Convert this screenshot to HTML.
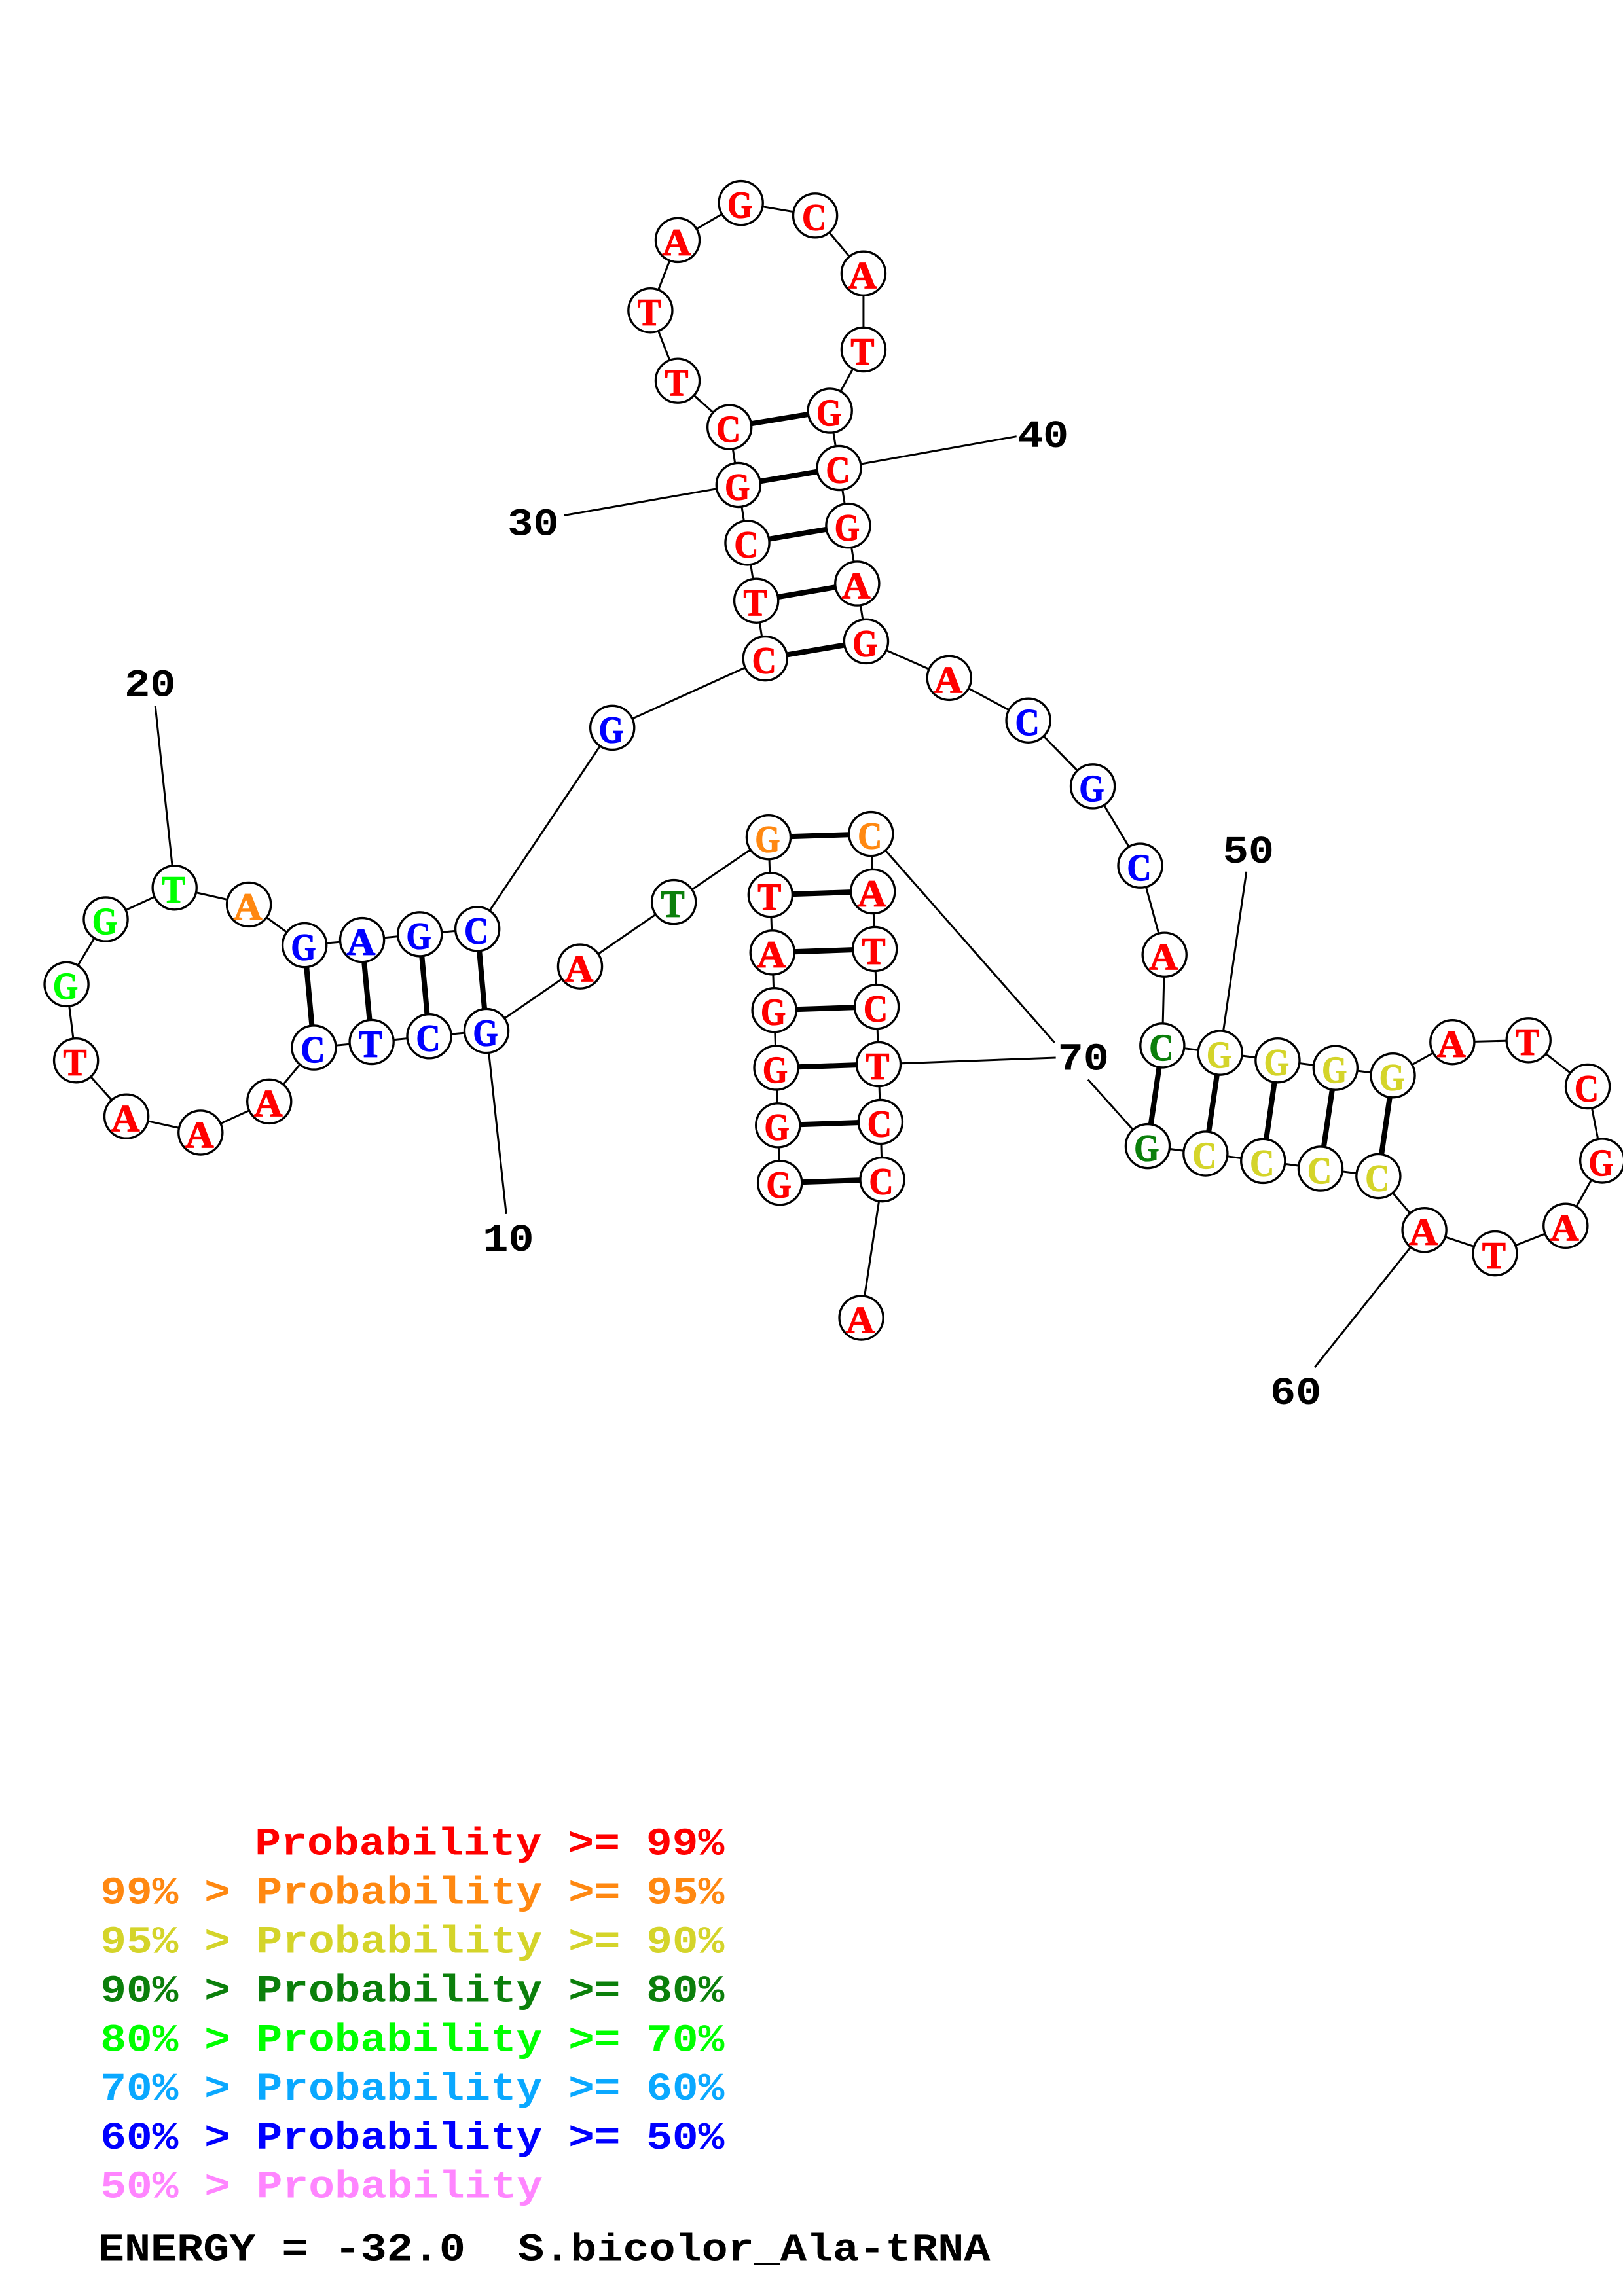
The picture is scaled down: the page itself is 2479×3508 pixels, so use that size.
<!DOCTYPE html>
<html><head><meta charset="utf-8"><style>
html,body{margin:0;padding:0;background:#fff}
svg{display:block}
.b{fill:none;stroke:#000;stroke-width:1.35}
.p{stroke:#000;stroke-width:3.6}
circle{fill:#fff;stroke:#000;stroke-width:1.5}
.n text{font-family:"Liberation Serif",serif;font-weight:bold;font-size:26px;text-anchor:middle;stroke-width:.6px}
.r{fill:#f00;stroke:#f00}.o{fill:#ff8811;stroke:#ff8811}.y{fill:#d4d42a;stroke:#d4d42a}.d{fill:#0b7f0b;stroke:#0b7f0b}.g{fill:#0f0;stroke:#0f0}.u{fill:#00f;stroke:#00f}
.m{font-family:"Liberation Mono",monospace;font-weight:bold;font-size:26.5px}
.l text{font-family:"Liberation Mono",monospace;font-weight:bold;font-size:26.5px;fill:#000}
</style></head><body>
<svg xmlns="http://www.w3.org/2000/svg" width="2479" height="3508" viewBox="0 0 1108 1568" preserveAspectRatio="none">
<rect width="1108" height="1568" fill="#fff"/>
<polyline class="b" points="532.4,807.8 531.1,768.5 529.9,729.2 528.6,689.8 527.3,650.5 526,611.1 524.7,571.8 460,616 396,660 332.1,704 293,707.7 253.7,711.6 214.3,715.4 183.8,752.2 136.9,773.5 86.3,762.4 51.9,724.2 45.4,672.2 72.2,627.8 119.2,606.2 169.9,617.7 207.9,645.5 247.2,641.9 286.6,638 325.9,634.4 418,497 522.4,449.7 516.3,410.2 510.2,370.7 504.1,331.2 498,291.7 462.6,260 444,212 462.6,164 505.8,138.6 556.5,147.2 589.5,186.7 589.5,238.7 566.6,280.5 572.8,319.6 579,359 585.2,398.5 591.3,438 648,463 702,492 746,537 778.4,591.2 795,652 793.5,714 833,719 872.2,724.2 911.7,729.3 950.9,734.5 991.5,711.7 1043.5,710.4 1083.9,742 1093.8,792.7 1068.8,837.1 1020.6,856 972.4,840 941,803.2 901.5,798.1 862.3,792.9 823,787.8 783.5,782.7 742.8,737.3"/>
<polyline class="b" points="719.9,712 594.6,569.5 595.9,608.8 597.2,648.1 598.5,687.5 599.8,726.8 601.1,766.1 602.3,805.5 588,900"/>
<g class="b">
<line x1="332.1" y1="704" x2="345.6" y2="829.1"/>
<line x1="119.2" y1="606.2" x2="106" y2="482"/>
<line x1="504.1" y1="331.2" x2="385" y2="352"/>
<line x1="572.8" y1="319.6" x2="694" y2="298"/>
<line x1="833" y1="719" x2="850.9" y2="595.3"/>
<line x1="972.4" y1="840" x2="897.5" y2="933.8"/>
<line x1="599.8" y1="726.8" x2="720.8" y2="722.3"/>
</g>
<g class="p">
<line x1="532.4" y1="807.8" x2="602.3" y2="805.5"/>
<line x1="531.1" y1="768.5" x2="601.1" y2="766.1"/>
<line x1="529.9" y1="729.2" x2="599.8" y2="726.8"/>
<line x1="528.6" y1="689.8" x2="598.5" y2="687.5"/>
<line x1="527.3" y1="650.5" x2="597.2" y2="648.1"/>
<line x1="526" y1="611.1" x2="595.9" y2="608.8"/>
<line x1="524.7" y1="571.8" x2="594.6" y2="569.5"/>
<line x1="332.1" y1="704" x2="325.9" y2="634.4"/>
<line x1="293" y1="707.7" x2="286.6" y2="638"/>
<line x1="253.7" y1="711.6" x2="247.2" y2="641.9"/>
<line x1="214.3" y1="715.4" x2="207.9" y2="645.5"/>
<line x1="522.4" y1="449.7" x2="591.3" y2="438"/>
<line x1="516.3" y1="410.2" x2="585.2" y2="398.5"/>
<line x1="510.2" y1="370.7" x2="579" y2="359"/>
<line x1="504.1" y1="331.2" x2="572.8" y2="319.6"/>
<line x1="498" y1="291.7" x2="566.6" y2="280.5"/>
<line x1="793.5" y1="714" x2="783.5" y2="782.7"/>
<line x1="833" y1="719" x2="823" y2="787.8"/>
<line x1="872.2" y1="724.2" x2="862.3" y2="792.9"/>
<line x1="911.7" y1="729.3" x2="901.5" y2="798.1"/>
<line x1="950.9" y1="734.5" x2="941" y2="803.2"/>
</g>
<g>
<circle cx="532.4" cy="807.8" r="15"/><circle cx="531.1" cy="768.5" r="15"/><circle cx="529.9" cy="729.2" r="15"/><circle cx="528.6" cy="689.8" r="15"/><circle cx="527.3" cy="650.5" r="15"/><circle cx="526" cy="611.1" r="15"/><circle cx="524.7" cy="571.8" r="15"/><circle cx="460" cy="616" r="15"/><circle cx="396" cy="660" r="15"/><circle cx="332.1" cy="704" r="15"/><circle cx="293" cy="707.7" r="15"/><circle cx="253.7" cy="711.6" r="15"/><circle cx="214.3" cy="715.4" r="15"/><circle cx="183.8" cy="752.2" r="15"/><circle cx="136.9" cy="773.5" r="15"/><circle cx="86.3" cy="762.4" r="15"/><circle cx="51.9" cy="724.2" r="15"/><circle cx="45.4" cy="672.2" r="15"/><circle cx="72.2" cy="627.8" r="15"/><circle cx="119.2" cy="606.2" r="15"/><circle cx="169.9" cy="617.7" r="15"/><circle cx="207.9" cy="645.5" r="15"/><circle cx="247.2" cy="641.9" r="15"/><circle cx="286.6" cy="638" r="15"/><circle cx="325.9" cy="634.4" r="15"/><circle cx="418" cy="497" r="15"/><circle cx="522.4" cy="449.7" r="15"/><circle cx="516.3" cy="410.2" r="15"/><circle cx="510.2" cy="370.7" r="15"/><circle cx="504.1" cy="331.2" r="15"/><circle cx="498" cy="291.7" r="15"/><circle cx="462.6" cy="260" r="15"/><circle cx="444" cy="212" r="15"/><circle cx="462.6" cy="164" r="15"/><circle cx="505.8" cy="138.6" r="15"/><circle cx="556.5" cy="147.2" r="15"/><circle cx="589.5" cy="186.7" r="15"/><circle cx="589.5" cy="238.7" r="15"/><circle cx="566.6" cy="280.5" r="15"/><circle cx="572.8" cy="319.6" r="15"/><circle cx="579" cy="359" r="15"/><circle cx="585.2" cy="398.5" r="15"/><circle cx="591.3" cy="438" r="15"/><circle cx="648" cy="463" r="15"/><circle cx="702" cy="492" r="15"/><circle cx="746" cy="537" r="15"/><circle cx="778.4" cy="591.2" r="15"/><circle cx="795" cy="652" r="15"/><circle cx="793.5" cy="714" r="15"/><circle cx="833" cy="719" r="15"/><circle cx="872.2" cy="724.2" r="15"/><circle cx="911.7" cy="729.3" r="15"/><circle cx="950.9" cy="734.5" r="15"/><circle cx="991.5" cy="711.7" r="15"/><circle cx="1043.5" cy="710.4" r="15"/><circle cx="1083.9" cy="742" r="15"/><circle cx="1093.8" cy="792.7" r="15"/><circle cx="1068.8" cy="837.1" r="15"/><circle cx="1020.6" cy="856" r="15"/><circle cx="972.4" cy="840" r="15"/><circle cx="941" cy="803.2" r="15"/><circle cx="901.5" cy="798.1" r="15"/><circle cx="862.3" cy="792.9" r="15"/><circle cx="823" cy="787.8" r="15"/><circle cx="783.5" cy="782.7" r="15"/><circle cx="594.6" cy="569.5" r="15"/><circle cx="595.9" cy="608.8" r="15"/><circle cx="597.2" cy="648.1" r="15"/><circle cx="598.5" cy="687.5" r="15"/><circle cx="599.8" cy="726.8" r="15"/><circle cx="601.1" cy="766.1" r="15"/><circle cx="602.3" cy="805.5" r="15"/><circle cx="588" cy="900" r="15"/>
</g>
<g class="n">
<text class="r" x="531.7" y="817.8" textLength="17" lengthAdjust="spacingAndGlyphs">G</text>
<text class="r" x="530.4" y="778.5" textLength="17" lengthAdjust="spacingAndGlyphs">G</text>
<text class="r" x="529.2" y="739.2" textLength="17" lengthAdjust="spacingAndGlyphs">G</text>
<text class="r" x="527.9" y="699.8" textLength="17" lengthAdjust="spacingAndGlyphs">G</text>
<text class="r" x="526.6" y="660.5" textLength="19.5" lengthAdjust="spacingAndGlyphs">A</text>
<text class="r" x="525.3" y="621.1" textLength="16" lengthAdjust="spacingAndGlyphs">T</text>
<text class="o" x="524" y="581.8" textLength="17" lengthAdjust="spacingAndGlyphs">G</text>
<text class="d" x="459.3" y="626" textLength="16" lengthAdjust="spacingAndGlyphs">T</text>
<text class="r" x="395.3" y="670" textLength="19.5" lengthAdjust="spacingAndGlyphs">A</text>
<text class="u" x="331.4" y="714" textLength="17" lengthAdjust="spacingAndGlyphs">G</text>
<text class="u" x="292.3" y="717.7" textLength="16.5" lengthAdjust="spacingAndGlyphs">C</text>
<text class="u" x="253" y="721.6" textLength="16" lengthAdjust="spacingAndGlyphs">T</text>
<text class="u" x="213.6" y="725.4" textLength="16.5" lengthAdjust="spacingAndGlyphs">C</text>
<text class="r" x="183.1" y="762.2" textLength="19.5" lengthAdjust="spacingAndGlyphs">A</text>
<text class="r" x="136.2" y="783.5" textLength="19.5" lengthAdjust="spacingAndGlyphs">A</text>
<text class="r" x="85.6" y="772.4" textLength="19.5" lengthAdjust="spacingAndGlyphs">A</text>
<text class="r" x="51.2" y="734.2" textLength="16" lengthAdjust="spacingAndGlyphs">T</text>
<text class="g" x="44.7" y="682.2" textLength="17" lengthAdjust="spacingAndGlyphs">G</text>
<text class="g" x="71.5" y="637.8" textLength="17" lengthAdjust="spacingAndGlyphs">G</text>
<text class="g" x="118.5" y="616.2" textLength="16" lengthAdjust="spacingAndGlyphs">T</text>
<text class="o" x="169.2" y="627.7" textLength="19.5" lengthAdjust="spacingAndGlyphs">A</text>
<text class="u" x="207.2" y="655.5" textLength="17" lengthAdjust="spacingAndGlyphs">G</text>
<text class="u" x="246.5" y="651.9" textLength="19.5" lengthAdjust="spacingAndGlyphs">A</text>
<text class="u" x="285.9" y="648" textLength="17" lengthAdjust="spacingAndGlyphs">G</text>
<text class="u" x="325.2" y="644.4" textLength="16.5" lengthAdjust="spacingAndGlyphs">C</text>
<text class="u" x="417.3" y="507" textLength="17" lengthAdjust="spacingAndGlyphs">G</text>
<text class="r" x="521.7" y="459.7" textLength="16.5" lengthAdjust="spacingAndGlyphs">C</text>
<text class="r" x="515.6" y="420.2" textLength="16" lengthAdjust="spacingAndGlyphs">T</text>
<text class="r" x="509.5" y="380.7" textLength="16.5" lengthAdjust="spacingAndGlyphs">C</text>
<text class="r" x="503.4" y="341.2" textLength="17" lengthAdjust="spacingAndGlyphs">G</text>
<text class="r" x="497.3" y="301.7" textLength="16.5" lengthAdjust="spacingAndGlyphs">C</text>
<text class="r" x="461.9" y="270" textLength="16" lengthAdjust="spacingAndGlyphs">T</text>
<text class="r" x="443.3" y="222" textLength="16" lengthAdjust="spacingAndGlyphs">T</text>
<text class="r" x="461.9" y="174" textLength="19.5" lengthAdjust="spacingAndGlyphs">A</text>
<text class="r" x="505.1" y="148.6" textLength="17" lengthAdjust="spacingAndGlyphs">G</text>
<text class="r" x="555.8" y="157.2" textLength="16.5" lengthAdjust="spacingAndGlyphs">C</text>
<text class="r" x="588.8" y="196.7" textLength="19.5" lengthAdjust="spacingAndGlyphs">A</text>
<text class="r" x="588.8" y="248.7" textLength="16" lengthAdjust="spacingAndGlyphs">T</text>
<text class="r" x="565.9" y="290.5" textLength="17" lengthAdjust="spacingAndGlyphs">G</text>
<text class="r" x="572.1" y="329.6" textLength="16.5" lengthAdjust="spacingAndGlyphs">C</text>
<text class="r" x="578.3" y="369" textLength="17" lengthAdjust="spacingAndGlyphs">G</text>
<text class="r" x="584.5" y="408.5" textLength="19.5" lengthAdjust="spacingAndGlyphs">A</text>
<text class="r" x="590.6" y="448" textLength="17" lengthAdjust="spacingAndGlyphs">G</text>
<text class="r" x="647.3" y="473" textLength="19.5" lengthAdjust="spacingAndGlyphs">A</text>
<text class="u" x="701.3" y="502" textLength="16.5" lengthAdjust="spacingAndGlyphs">C</text>
<text class="u" x="745.3" y="547" textLength="17" lengthAdjust="spacingAndGlyphs">G</text>
<text class="u" x="777.7" y="601.2" textLength="16.5" lengthAdjust="spacingAndGlyphs">C</text>
<text class="r" x="794.3" y="662" textLength="19.5" lengthAdjust="spacingAndGlyphs">A</text>
<text class="d" x="792.8" y="724" textLength="16.5" lengthAdjust="spacingAndGlyphs">C</text>
<text class="y" x="832.3" y="729" textLength="17" lengthAdjust="spacingAndGlyphs">G</text>
<text class="y" x="871.5" y="734.2" textLength="17" lengthAdjust="spacingAndGlyphs">G</text>
<text class="y" x="911" y="739.3" textLength="17" lengthAdjust="spacingAndGlyphs">G</text>
<text class="y" x="950.2" y="744.5" textLength="17" lengthAdjust="spacingAndGlyphs">G</text>
<text class="r" x="990.8" y="721.7" textLength="19.5" lengthAdjust="spacingAndGlyphs">A</text>
<text class="r" x="1042.8" y="720.4" textLength="16" lengthAdjust="spacingAndGlyphs">T</text>
<text class="r" x="1083.2" y="752" textLength="16.5" lengthAdjust="spacingAndGlyphs">C</text>
<text class="r" x="1093.1" y="802.7" textLength="17" lengthAdjust="spacingAndGlyphs">G</text>
<text class="r" x="1068.1" y="847.1" textLength="19.5" lengthAdjust="spacingAndGlyphs">A</text>
<text class="r" x="1019.9" y="866" textLength="16" lengthAdjust="spacingAndGlyphs">T</text>
<text class="r" x="971.7" y="850" textLength="19.5" lengthAdjust="spacingAndGlyphs">A</text>
<text class="y" x="940.3" y="813.2" textLength="16.5" lengthAdjust="spacingAndGlyphs">C</text>
<text class="y" x="900.8" y="808.1" textLength="16.5" lengthAdjust="spacingAndGlyphs">C</text>
<text class="y" x="861.6" y="802.9" textLength="16.5" lengthAdjust="spacingAndGlyphs">C</text>
<text class="y" x="822.3" y="797.8" textLength="16.5" lengthAdjust="spacingAndGlyphs">C</text>
<text class="d" x="782.8" y="792.7" textLength="17" lengthAdjust="spacingAndGlyphs">G</text>
<text class="o" x="593.9" y="579.5" textLength="16.5" lengthAdjust="spacingAndGlyphs">C</text>
<text class="r" x="595.2" y="618.8" textLength="19.5" lengthAdjust="spacingAndGlyphs">A</text>
<text class="r" x="596.5" y="658.1" textLength="16" lengthAdjust="spacingAndGlyphs">T</text>
<text class="r" x="597.8" y="697.5" textLength="16.5" lengthAdjust="spacingAndGlyphs">C</text>
<text class="r" x="599.1" y="736.8" textLength="16" lengthAdjust="spacingAndGlyphs">T</text>
<text class="r" x="600.4" y="776.1" textLength="16.5" lengthAdjust="spacingAndGlyphs">C</text>
<text class="r" x="601.6" y="815.5" textLength="16.5" lengthAdjust="spacingAndGlyphs">C</text>
<text class="r" x="587.3" y="910" textLength="19.5" lengthAdjust="spacingAndGlyphs">A</text>
</g>
<g class="l" transform="translate(0,-.7)">
<text x="329.5" y="854.8" textLength="35" lengthAdjust="spacingAndGlyphs">10</text>
<text x="85" y="476" textLength="35" lengthAdjust="spacingAndGlyphs">20</text>
<text x="346.5" y="366" textLength="35" lengthAdjust="spacingAndGlyphs">30</text>
<text x="694.5" y="306" textLength="35" lengthAdjust="spacingAndGlyphs">40</text>
<text x="834.8" y="589.8" textLength="35" lengthAdjust="spacingAndGlyphs">50</text>
<text x="867.1" y="959.5" textLength="35" lengthAdjust="spacingAndGlyphs">60</text>
<text x="722.1" y="731.3" textLength="35" lengthAdjust="spacingAndGlyphs">70</text>
</g>
<g class="m" transform="translate(0,.6)">
<text x="174" y="1266" fill="#ff0000" textLength="320.5" lengthAdjust="spacingAndGlyphs">Probability &gt;= 99%</text>
<text x="68.5" y="1299.5" fill="#ff8811" textLength="426" lengthAdjust="spacingAndGlyphs">99% &gt; Probability &gt;= 95%</text>
<text x="68.5" y="1333" fill="#d4d42a" textLength="426" lengthAdjust="spacingAndGlyphs">95% &gt; Probability &gt;= 90%</text>
<text x="68.5" y="1366.4" fill="#0b7f0b" textLength="426" lengthAdjust="spacingAndGlyphs">90% &gt; Probability &gt;= 80%</text>
<text x="68.5" y="1399.9" fill="#00ff00" textLength="426" lengthAdjust="spacingAndGlyphs">80% &gt; Probability &gt;= 70%</text>
<text x="68.5" y="1433.3" fill="#0aa8ff" textLength="426" lengthAdjust="spacingAndGlyphs">70% &gt; Probability &gt;= 60%</text>
<text x="68.5" y="1466.8" fill="#0000ff" textLength="426" lengthAdjust="spacingAndGlyphs">60% &gt; Probability &gt;= 50%</text>
<text x="68.5" y="1500.2" fill="#ff85ff" textLength="302" lengthAdjust="spacingAndGlyphs">50% &gt; Probability</text>
<text x="67" y="1543" fill="#000000" textLength="609" lengthAdjust="spacingAndGlyphs">ENERGY = -32.0&#160;&#160;S.bicolor_Ala-tRNA</text>
</g>
</svg>
</body></html>
